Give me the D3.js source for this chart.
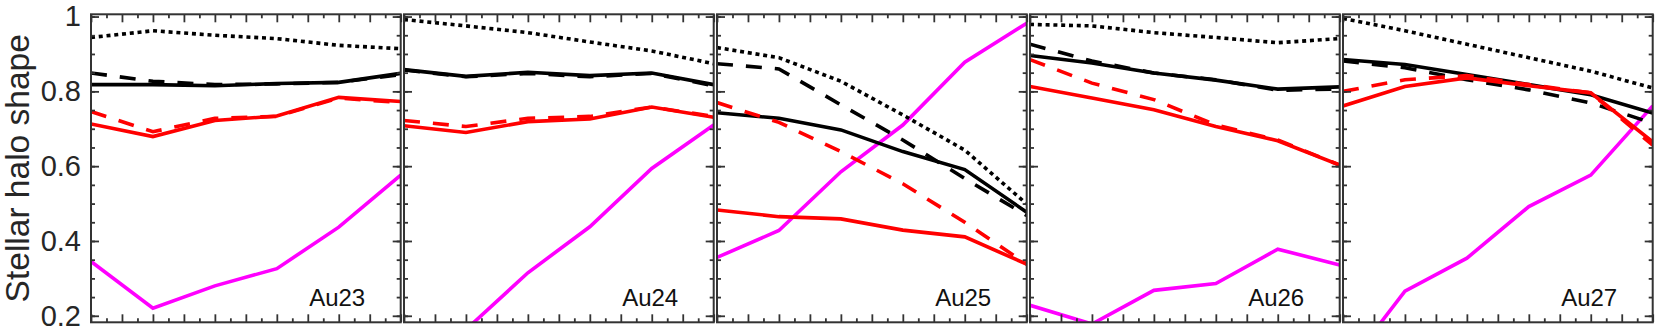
<!DOCTYPE html>
<html lang="en">
<head>
<meta charset="utf-8" />
<title>Stellar halo shape</title>
<script src="https://cdn.jsdelivr.net/npm/d3@7"></script>
<style>
  body { margin: 0; background: #fff; font-family: "Liberation Sans", Arial, sans-serif; }
  .tick line { stroke: #333; stroke-width: 1.8px; }
  .frame { fill: none; stroke: #333; stroke-width: 2px; }
  .ylab text { font-size: 29px; fill: #262626; }
</style>
</head>
<body>
<div id="chart"></div>
<script>
// halos, one panel each
var halos = ["Au23", "Au24", "Au25", "Au26", "Au27"];
var xPos = [0, 2, 4, 6, 8, 10];

// one row per panel, six points per row
var dottedBlack = [
  [0.944, 0.962, 0.950, 0.941, 0.923, 0.914],
  [0.992, 0.975, 0.957, 0.932, 0.908, 0.874],
  [0.917, 0.890, 0.827, 0.737, 0.643, 0.499],
  [0.979, 0.975, 0.957, 0.944, 0.930, 0.941],
  [0.995, 0.962, 0.926, 0.890, 0.854, 0.809]
];
var dashedBlack = [
  [0.849, 0.827, 0.818, 0.820, 0.824, 0.845],
  [0.857, 0.839, 0.848, 0.839, 0.848, 0.815],
  [0.874, 0.860, 0.764, 0.670, 0.567, 0.468],
  [0.926, 0.881, 0.849, 0.831, 0.803, 0.806],
  [0.881, 0.863, 0.831, 0.804, 0.769, 0.715]
];
var solidBlack = [
  [0.818, 0.818, 0.815, 0.821, 0.824, 0.848],
  [0.858, 0.840, 0.851, 0.842, 0.849, 0.818],
  [0.743, 0.728, 0.697, 0.639, 0.591, 0.477],
  [0.896, 0.876, 0.849, 0.830, 0.806, 0.812],
  [0.885, 0.872, 0.845, 0.818, 0.791, 0.742]
];
var dashedRed = [
  [0.746, 0.692, 0.728, 0.733, 0.782, 0.770],
  [0.722, 0.706, 0.728, 0.733, 0.758, 0.733],
  [0.770, 0.717, 0.639, 0.553, 0.450, 0.338],
  [0.885, 0.822, 0.778, 0.710, 0.670, 0.603],
  [0.800, 0.831, 0.842, 0.818, 0.796, 0.656]
];
var solidRed = [
  [0.713, 0.679, 0.722, 0.734, 0.784, 0.773],
  [0.708, 0.690, 0.719, 0.726, 0.758, 0.731],
  [0.483, 0.465, 0.459, 0.429, 0.411, 0.338],
  [0.813, 0.782, 0.751, 0.706, 0.668, 0.603],
  [0.761, 0.813, 0.836, 0.815, 0.796, 0.665]
];
var magenta = [
  [0.345, 0.220, 0.280, 0.326, 0.437, 0.576],
  [0.100, 0.163, 0.315, 0.438, 0.594, 0.710],
  [0.356, 0.428, 0.585, 0.710, 0.878, 0.982],
  [0.228, 0.178, 0.268, 0.286, 0.378, 0.336],
  [0.050, 0.266, 0.354, 0.492, 0.576, 0.761]
];

var yMajor = [0.2, 0.4, 0.6, 0.8, 1];
var yLabels = ["0.2", "0.4", "0.6", "0.8", "1"];

var width = 1661, height = 329;
var plotTop = 14.3, plotBottom = 322.3;
var panelLeft = 91, panelW = 309.7, panelStep = 313;

var series = [
  { data: magenta,     color: "#ff00ff", dash: null },
  { data: dottedBlack, color: "#000",    dash: "4,3.8" },
  { data: dashedBlack, color: "#000",    dash: "16,13" },
  { data: solidBlack,  color: "#000",    dash: null },
  { data: dashedRed,   color: "#ff0000", dash: "16,13" },
  { data: solidRed,    color: "#ff0000", dash: null }
];

var svg = d3.select("#chart").append("svg")
    .attr("width", width)
    .attr("height", height);

var y = d3.scaleLinear().domain([0.1826, 1.006]).range([plotBottom, plotTop]);

var yMinor = d3.range(0.2, 1.0001, 0.05).map(function(d) { return +d.toFixed(2); });
var xMajor = d3.range(0, 11, 1);
var xMinor = d3.range(0.5, 10, 1);

halos.forEach(function(name, p) {
  var x0 = panelLeft + p * panelStep;
  var x = d3.scaleLinear().domain([0, 10]).range([x0, x0 + panelW]);

  svg.append("clipPath").attr("id", "clip" + p)
    .append("rect")
      .attr("x", x0).attr("y", plotTop)
      .attr("width", panelW).attr("height", plotBottom - plotTop);

  var g = svg.append("g");

  var line = d3.line()
      .x(function(d, i) { return x(xPos[i]); })
      .y(function(d) { return y(d); });

  series.forEach(function(s) {
    g.append("path")
      .datum(s.data[p])
      .attr("clip-path", "url(#clip" + p + ")")
      .attr("d", line)
      .attr("fill", "none")
      .attr("stroke", s.color)
      .attr("stroke-width", 3.6)
      .attr("stroke-dasharray", s.dash);
  });

  // inward ticks on all four sides
  function ticks(axis, tr) {
    var a = g.append("g").attr("transform", tr).call(axis);
    a.select(".domain").remove();
    a.selectAll("text").remove();
  }
  ticks(d3.axisLeft(y).tickValues(yMajor).tickSize(-8), "translate(" + x0 + ",0)");
  ticks(d3.axisLeft(y).tickValues(yMinor).tickSize(-4), "translate(" + x0 + ",0)");
  ticks(d3.axisRight(y).tickValues(yMajor).tickSize(-8), "translate(" + (x0 + panelW) + ",0)");
  ticks(d3.axisRight(y).tickValues(yMinor).tickSize(-4), "translate(" + (x0 + panelW) + ",0)");
  ticks(d3.axisTop(x).tickValues(xMajor).tickSize(-8), "translate(0," + plotTop + ")");
  ticks(d3.axisTop(x).tickValues(xMinor).tickSize(-4), "translate(0," + plotTop + ")");
  ticks(d3.axisBottom(x).tickValues(xMajor).tickSize(-8), "translate(0," + plotBottom + ")");
  ticks(d3.axisBottom(x).tickValues(xMinor).tickSize(-4), "translate(0," + plotBottom + ")");

  g.append("rect").attr("class", "frame")
    .attr("x", x0).attr("y", plotTop)
    .attr("width", panelW).attr("height", plotBottom - plotTop);

  g.append("text")
    .attr("x", x0 + panelW - 35.5)
    .attr("y", 306)
    .attr("text-anchor", "end")
    .attr("font-size", 24)
    .attr("fill", "#111")
    .text(name);

  if (p === 0) {
    var yl = svg.append("g").attr("class", "ylab")
        .attr("transform", "translate(" + x0 + ",0)")
        .call(d3.axisLeft(y).tickValues(yMajor).tickSize(0).tickPadding(10)
          .tickFormat(function(d, i) { return yLabels[i]; }));
    yl.select(".domain").remove();
    yl.selectAll("text").attr("font-family", null).attr("font-size", null);
  }
});

svg.append("text")
  .attr("transform", "translate(29," + ((plotTop + plotBottom) / 2) + ") rotate(-90)")
  .attr("text-anchor", "middle")
  .attr("font-size", 33.5)
  .attr("fill", "#262626")
  .text("Stellar halo shape");
</script>
</body>
</html>
